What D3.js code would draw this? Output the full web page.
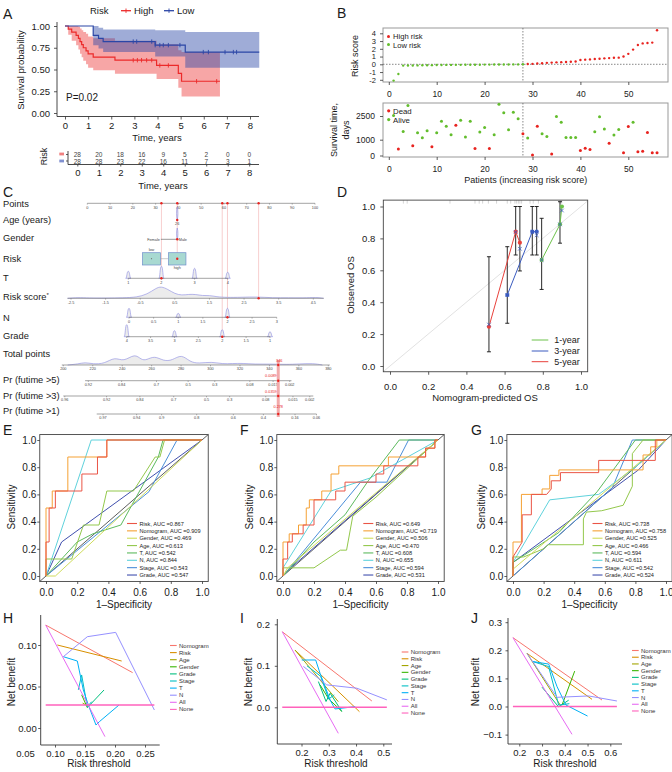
<!DOCTYPE html>
<html lang="en">
<head>
<meta charset="UTF-8" />
<title>Risk model – survival, nomogram, ROC and DCA</title>
<script src="https://d3js.org/d3.v7.min.js"></script>
<style>
  body { margin: 0; background: #fff; }
  svg { display: block; font-family: "Liberation Sans", Arial, Helvetica, sans-serif; }
</style>
</head>
<body>
<svg width="672" height="772"></svg>
<script>
// ---------------- data ----------------
// A: Kaplan-Meier (time in years)
const kmHighT  = [0, 0.14, 0.29, 0.48, 0.58, 0.65, 0.72, 0.79, 0.91, 1.0, 1.22, 2.16, 3.96, 4.9, 5.04, 6.7];
const kmHighS  = [1, 0.964, 0.929, 0.893, 0.857, 0.821, 0.786, 0.75, 0.714, 0.679, 0.643, 0.607, 0.547, 0.456, 0.365, 0.365];
const kmHighLo = [1, 0.9, 0.83, 0.78, 0.73, 0.68, 0.64, 0.6, 0.56, 0.52, 0.49, 0.45, 0.39, 0.29, 0.19, 0.19];
const kmHighUp = [1, 1, 1, 1, 0.99, 0.97, 0.95, 0.93, 0.91, 0.88, 0.86, 0.83, 0.79, 0.72, 0.7, 0.7];
const kmLowT   = [0, 1.22, 1.45, 1.65, 3.9, 5.2, 8.4];
const kmLowS   = [1, 0.893, 0.857, 0.821, 0.78, 0.7, 0.7];
const kmLowLo  = [1, 0.78, 0.74, 0.7, 0.65, 0.52, 0.52];
const kmLowUp  = [1, 1, 0.98, 0.96, 0.95, 0.93, 0.93];
const kmHighCensor = [2.95, 3.13, 3.31, 3.53, 3.75, 4.1, 4.47, 5.69, 6.56];
const kmLowCensor  = [2.95, 3.1, 3.75, 3.9, 4.1, 4.25, 4.47, 4.97, 5.98, 6.2, 6.92, 7.28, 7.42];
const riskTimes  = [0, 1, 2, 3, 4, 5, 6, 7, 8];
const atRiskHigh = [28, 20, 18, 16, 9, 5, 2, 0, 0];
const atRiskLow  = [28, 28, 23, 22, 16, 11, 7, 3, 1];

// B: patients ordered by risk score
const riskScore = [-2.1, -1.25, -0.17, -0.16, -0.15, -0.14, -0.13, -0.12, -0.11, -0.1, -0.09, -0.08, -0.08, -0.07,
  -0.07, -0.06, -0.06, -0.05, -0.05, -0.04, -0.04, -0.03, -0.03, -0.02, -0.02, -0.01, -0.01, 0.0,
  0.03, 0.06, 0.1, 0.14, 0.19, 0.22, 0.25, 0.28, 0.3, 0.33, 0.37, 0.55, 0.6, 0.63, 0.68, 0.72,
  0.77, 0.8, 0.84, 0.86, 1.0, 1.35, 1.9, 2.5, 2.7, 2.75, 2.8, 4.4];
const survDays = [2530, 417, 1520, 3170, 610, 1440, 1120, 1570, 560, 1440, 2170, 1850, 1310, 1910, 2230, 1170,
  2170, 440, 1490, 1780, 440, 1310, 3240, 2700, 1630, 2740, 2320, 1380, 1100, 30, 1850, 1380, 1200, 100,
  2470, 2100, 1140, 1140, 1140, 310, 460, 380, 1510, 2450, 1680, 780, 1290, 1650, 180, 1830, 2100, 240,
  270, 1460, 180, 180];
const deadStatus = [0,1,0,0,1,0,0,0,1,0, 0,0,0,1,0,0,0,1,0,0, 1,0,0,0,0,0,0,1,0,1, 1,0,0,1,0,0,0,0,0,1,
  1,1,0,0,0,1,0,0,1,1, 0,1,1,1,1,1];
const lowRiskCount = 28;

// C: nomogram
const nomoLabels = ["Points", "Age (years)", "Gender", "Risk", "T", "Risk score", "N", "Grade", "Total points",
  "Pr (futime >5)", "Pr (futime >3)", "Pr (futime >1)"];
const pointsTicks = [0, 10, 20, 30, 40, 50, 60, 70, 80, 90, 100];
const tLevels = [1, 2, 3, 4];
const tDensity = [7, 12, 10, 6];
const rsTicks = [-2.5, -1.5, -0.5, 0.5, 1.5, 2.5, 3.5, 4.5];
const rsDensity = [[-2.6, 0], [-2.3, 0.8], [-2.0, 0.3], [-1.5, 0.2], [-1.0, 0.5], [-0.6, 1], [-0.3, 4], [-0.05, 10],
  [0.1, 12], [0.3, 9], [0.5, 4.5], [0.7, 3], [0.9, 4], [1.1, 4], [1.3, 2.5], [1.5, 3], [1.7, 1.5], [2.0, 0.8],
  [2.4, 1], [2.9, 1.5], [3.3, 0.4], [3.8, 0.6], [4.2, 0.3], [4.6, 1], [4.8, 0]];
const nTicks = [0, 0.5, 1, 1.5, 2, 2.5, 3];
const nLevels = [0, 1, 2];
const nDensity = [9, 4, 9];
const gradeTicks = [4, 3.5, 3, 2.5, 2, 1.5, 1];
const gradeLevels = [4, 3, 2, 1];
const gradeDensity = [12, 6, 7, 5];
const totalTicks = [200, 220, 240, 260, 280, 300, 320, 340, 360, 380];
const totalDensity = [[203, 0], [210, 1], [214.7, 2.7], [220, 1], [228, 1.2], [235, 8.3], [241, 3], [248.6, 11.7],
  [253, 5], [256.6, 5], [262, 9.3], [268, 4], [274, 4.5], [280.3, 11], [286, 3], [292, 1.5], [300.7, 3.3],
  [308, 1], [315, 1.5], [322, 1.7], [330, 0.8], [340, 1], [352, 0.5], [360, 1], [369.7, 1.7], [376, 0]];
const pr5Labels = ["0.92", "0.84", "0.7", "0.5", "0.3", "0.08", "0.015", "0.002"];
const pr5AtTotal = [217, 239.6, 263.3, 284.8, 302.9, 326.7, 342.5, 353.8];
const pr3Labels = ["0.96", "0.92", "0.84", "0.7", "0.5", "0.3", "0.08", "0.015", "0.002"];
const pr3AtTotal = [201, 229.4, 252, 275, 297.3, 313, 337.5, 356, 367.4];
const pr1Labels = ["0.97", "0.94", "0.9", "0.8", "0.6", "0.4", "0.16", "0.06"];
const pr1AtTotal = [227, 249.8, 266.8, 290.6, 315.5, 335.9, 357.4, 372];
const patientSharedPoints = 39.5;   // age 26, male, high risk
const genderFemalePoints = 32.3;
const riskLowPoints = 28.2;
const patientT = 2, patientRiskScore = 2.92, patientN = 2, patientGrade = 2, patientAge = 26;
const patientTotal = 346;
const patientProbLabels = ["0.0089", "0.0359", "0.278"];

// D: calibration
const rugPred = [0.07, 0.09, 0.314, 0.445, 0.467, 0.485, 0.515, 0.558, 0.614, 0.632, 0.654, 0.663, 0.672,
  0.68, 0.689, 0.733, 0.75, 0.777, 0.886, 0.893, 0.899];
const calNames = ["1-year", "3-year", "5-year"];
const cal1Pred = [0.794, 0.89, 0.9],  cal1Obs = [0.665, 0.888, 1.0], cal1Lo = [0.48, 0.77, 1.0], cal1Hi = [0.926, 1.03, 1.0], cal1Bc = [0.665, 0.888, 0.975];
const cal3Pred = [0.614, 0.745, 0.768], cal3Obs = [0.445, 0.842, 0.842], cal3Lo = [0.268, 0.696, 0.696], cal3Hi = [0.748, 1.0, 1.0], cal3Bc = [0.445, 0.84, 0.82];
const cal5Pred = [0.518, 0.658, 0.68], cal5Obs = [0.246, 0.842, 0.773], cal5Lo = [0.089, 0.696, 0.596], cal5Hi = [0.685, 1.0, 1.0], cal5Bc = [0.26, 0.84, 0.735];

// E-G: ROC curves, points are [1-specificity, sensitivity]
const rocModels = ["Risk", "Nomogram", "Gender", "Age", "T", "N", "Stage", "Grade"];
const rocE = [
  [[0,0],[0,0.25],[0.02,0.25],[0.02,0.5],[0.06,0.5],[0.06,0.625],[0.23,0.625],[0.23,0.75],[0.33,0.75],[0.33,0.875],[0.39,0.875],[0.39,1],[1,1]],
  [[0,0],[0,0.125],[0,0.5],[0.04,0.5],[0.04,0.625],[0.14,0.625],[0.14,0.875],[0.39,0.875],[0.39,1],[1,1]],
  [[0,0],[0.06,0],[1,1]],
  [[0,0],[0,0.125],[0.165,0.125],[0.24,0.375],[0.34,0.375],[0.39,0.625],[0.56,0.625],[0.7,0.875],[0.73,0.875],[0.76,1],[1,1]],
  [[0,0],[0.1,0.125],[0.2,0.25],[0.3,0.31],[0.48,0.375],[0.6,0.625],[0.72,0.875],[0.75,1],[1,1]],
  [[0,0],[0.29,1],[1,1]],
  [[0,0],[0.66,0.62],[0.84,1],[1,1]],
  [[0,0],[0.1,0.25],[1,1]]
];
const aucE = [0.867, 0.909, 0.469, 0.613, 0.542, 0.844, 0.543, 0.547];
const rocF = [
  [[0,0],[0,0.125],[0.03,0.125],[0.03,0.25],[0.06,0.25],[0.06,0.31],[0.13,0.31],[0.13,0.375],[0.2,0.375],[0.2,0.56],[0.34,0.56],[0.34,0.625],[0.4,0.625],[0.4,0.69],[0.6,0.69],[0.6,0.75],[0.65,0.75],[0.65,0.81],[0.87,0.81],[0.87,0.875],[0.92,0.875],[0.92,0.94],[0.98,0.94],[0.98,1],[1,1]],
  [[0,0],[0,0.25],[0.04,0.25],[0.04,0.31],[0.1,0.31],[0.1,0.375],[0.15,0.375],[0.15,0.5],[0.17,0.5],[0.17,0.56],[0.25,0.56],[0.25,0.625],[0.31,0.625],[0.31,0.75],[0.36,0.75],[0.36,0.81],[0.68,0.81],[0.68,0.875],[0.92,0.875],[0.92,0.94],[0.98,0.94],[0.98,1],[1,1]],
  [[0,0],[0.03,0.06],[1,1]],
  [[0,0],[0,0.06],[0.2,0.06],[0.37,0.19],[0.41,0.19],[0.45,0.44],[0.6,0.58],[1,1]],
  [[0,0],[0.2,0.25],[0.4,0.45],[0.55,0.7],[0.75,1],[1,1]],
  [[0,0],[0,0.06],[0.31,0.625],[0.56,0.72],[1,1]],
  [[0,0],[0.5,0.69],[0.67,0.69],[0.81,1],[1,1]],
  [[0,0],[0.05,0.06],[1,1]]
];
const aucF = [0.649, 0.719, 0.506, 0.470, 0.608, 0.655, 0.594, 0.531];
const rocG = [
  [[0,0],[0,0.14],[0.06,0.25],[0.06,0.45],[0.12,0.45],[0.12,0.6],[0.22,0.6],[0.25,0.64],[0.25,0.7],[0.31,0.7],[0.31,0.76],[0.56,0.76],[0.56,0.85],[0.93,0.85],[0.93,1],[1,1]],
  [[0,0],[0,0.25],[0.055,0.25],[0.055,0.6],[0.19,0.6],[0.19,0.64],[0.24,0.64],[0.24,0.74],[0.3,0.74],[0.3,0.78],[0.85,0.78],[0.85,0.89],[0.9,0.89],[0.9,0.95],[0.94,0.95],[0.94,1],[1,1]],
  [[0,0],[0,0.05],[1,1]],
  [[0,0],[0,0.14],[0.07,0.14],[0.2,0.2],[0.23,0.23],[0.46,0.23],[0.46,0.42],[0.48,0.47],[0.58,0.48],[0.72,0.52],[0.78,0.66],[0.78,0.9],[0.85,1],[1,1]],
  [[0,0],[0,0.1],[0.3,0.32],[0.55,0.62],[0.8,1],[1,1]],
  [[0,0],[0,0.1],[0.24,0.56],[0.56,0.6],[0.8,0.8],[1,1]],
  [[0,0],[0.65,0.65],[0.78,1],[1,1]],
  [[0,0],[0,0.1],[0.82,0.78],[1,1]]
];
const aucG = [0.738, 0.758, 0.525, 0.466, 0.594, 0.611, 0.542, 0.524];

// H-J: decision curves, points are [risk threshold, net benefit]
const dcaModels = ["Nomogram", "Risk", "Age", "Gender", "Grade", "Stage", "T", "N", "All", "None"];
const dcaH = [
  [[0.0845,0.124],[0.2294,0.0667]],
  [[0.1039,0.1],[0.2111,0.0807]],
  [[0.146,0.03],[0.156,0.026]],
  [[0.1444,0.04],[0.1539,0.0245]],
  [[0.1539,0.0245],[0.1817,0.0458]],
  [[0.1389,0.046],[0.1444,0.0639],[0.1539,0.0257],[0.1611,0.0317]],
  [[0.1139,0.0859],[0.1372,0.0807],[0.1472,0.0458],[0.1556,0.0277],[0.1683,0.0036],[0.1739,0.0076],[0.2067,0.0277]],
  [[0.1139,0.0859],[0.1539,0.11],[0.2011,0.1152],[0.2656,0.0217]],
  [[0.0845,0.124],[0.1833,-0.0104]],
  [[0.0845,0.0277],[0.2656,0.0277]]
];
const dcaI = [
  [[0.1294,0.182],[0.458,0.0152]],
  [[0.176,0.138],[0.4125,-0.0105]],
  [[0.176,0.138],[0.335,0.0135]],
  [[0.268,0.054],[0.3,0.02],[0.348,-0.01]],
  [[0.262,0.062],[0.29,0.014],[0.305,0.034],[0.348,-0.01]],
  [[0.22,0.1],[0.27,0.075],[0.3,0.02],[0.32,0.03]],
  [[0.2007,0.114],[0.252,0.114],[0.268,0.0819],[0.305,0.0177],[0.323,-0.004],[0.397,0.0016]],
  [[0.2066,0.0985],[0.2926,0.054],[0.403,0.046],[0.513,0.0179]],
  [[0.1294,0.182],[0.335,-0.0627]],
  [[0.1294,0],[0.513,0]]
];
const dcaJ = [
  [[0.172,0.245],[0.5635,0.023]],
  [[0.234,0.189],[0.5196,0.0256]],
  [[0.234,0.189],[0.38,0.005]],
  [[0.3877,0.005],[0.4435,0.126]],
  [[0.2998,0.0687],[0.373,-0.0012],[0.417,0.0225]],
  [[0.263,0.159],[0.329,0.142],[0.373,0.005],[0.42,0.01]],
  [[0.259,0.16],[0.329,0.151],[0.366,0.0705],[0.405,0.0053],[0.5,-0.034]],
  [[0.234,0.189],[0.366,0.0327],[0.505,0.0375],[0.629,0.0196]],
  [[0.172,0.245],[0.4316,-0.099]],
  [[0.172,0],[0.629,0]]
];

// ---------------- helpers ----------------
const svg = d3.select("svg");
const INK = "#1a1a1a";
const RED_KM = "#ec2a2a", BLUE_KM = "#2b46a6";
const PT_RED = "#e8231f", PT_GREEN = "#63bd2d";
const ROC_COLORS = ["#ea5546", "#f5a134", "#cfdc5c", "#93c84c", "#5cba5e", "#5fd2dc", "#4a8ed9", "#4150ae"];
const DCA_COLORS = ["#F8766D", "#D89000", "#A3A500", "#39B600", "#00BF7D", "#00BFC4", "#00B0F6", "#9590FF", "#E76BF3", "#FF62BC"];

function text(g, x, y, s, fs, o = {}) {
  const t = g.append("text").attr("x", x).attr("y", y).attr("font-size", fs)
    .attr("fill", o.fill || INK).attr("text-anchor", o.anchor || "start").text(s);
  if (o.rot) t.attr("transform", `rotate(-90 ${x} ${y})`);
  return t;
}
function seg(g, x1, y1, x2, y2, col, w, dash) {
  const l = g.append("line").attr("x1", x1).attr("y1", y1).attr("x2", x2).attr("y2", y2)
    .attr("stroke", col).attr("stroke-width", w);
  if (dash) l.attr("stroke-dasharray", dash);
  return l;
}
function rAxis(g, gen, tx, ty, fs) {
  const a = g.append("g").attr("transform", `translate(${tx},${ty})`).call(gen);
  a.attr("font-size", fs).attr("font-family", null);
  a.select(".domain").remove();
  a.selectAll(".tick line").attr("stroke", "#333").attr("stroke-width", 0.8);
  a.selectAll(".tick text").attr("fill", INK);
  return a;
}

// panel letters
[["A", 3, 18.5], ["B", 337, 17.5], ["C", 3, 197], ["D", 337, 197], ["E", 3, 435], ["F", 240, 435],
 ["G", 471, 435], ["H", 3, 623], ["I", 240, 623], ["J", 471, 623]]
  .forEach(([s, x, y]) => text(svg, x, y, s, 14));

// ---------------- A: Kaplan-Meier ----------------
{
  const g = svg.append("g");
  const x = d3.scaleLinear().domain([0, 8]).range([65, 250]);
  const y = d3.scaleLinear().domain([0, 1]).range([113, 26]);
  const toRows = (T, S, Lo, Up) => T.map((t, i) => ({ t: t, s: S[i], lo: Lo[i], hi: Up[i] }));
  const high = toRows(kmHighT, kmHighS, kmHighLo, kmHighUp);
  const low = toRows(kmLowT, kmLowS, kmLowLo, kmLowUp);
  const band = d3.area().curve(d3.curveStepAfter).x(d => x(d.t)).y0(d => y(d.lo)).y1(d => y(d.hi));
  const step = d3.line().curve(d3.curveStepAfter).x(d => x(d.t)).y(d => y(d.s));

  g.append("path").datum(high).attr("d", band).attr("fill", RED_KM).attr("fill-opacity", 0.42);
  g.append("path").datum(low).attr("d", band).attr("fill", BLUE_KM).attr("fill-opacity", 0.45);
  g.append("path").datum(high).attr("d", step).attr("fill", "none").attr("stroke", RED_KM).attr("stroke-width", 1.2);
  g.append("path").datum(low).attr("d", step).attr("fill", "none").attr("stroke", BLUE_KM).attr("stroke-width", 1.2);

  const survAt = (T, S, t) => S[d3.bisectRight(T, t) - 1];
  [[kmHighCensor, kmHighT, kmHighS, RED_KM], [kmLowCensor, kmLowT, kmLowS, BLUE_KM]].forEach(([C, T, S, col]) => {
    g.selectAll(null).data(C).join("line")
      .attr("x1", d => x(d)).attr("x2", d => x(d))
      .attr("y1", d => y(survAt(T, S, d)) - 2.2).attr("y2", d => y(survAt(T, S, d)) + 2.2)
      .attr("stroke", col).attr("stroke-width", 0.9);
  });

  seg(g, 57, 22, 57, 116.5, "#333", 0.9);
  seg(g, 57, 116.5, 259, 116.5, "#333", 0.9);
  rAxis(g, d3.axisLeft(y).tickValues([0, 0.25, 0.5, 0.75, 1]).tickFormat(d3.format(".2f")).tickSize(3).tickPadding(4), 57, 0, 9.5);
  rAxis(g, d3.axisBottom(x).tickValues(riskTimes).tickSize(3).tickPadding(3), 0, 116.5, 9.5);
  text(g, 157, 141, "Time, years", 9.5, { anchor: "middle" });
  text(g, 24, 70, "Survival probability", 9.5, { anchor: "middle", rot: true });
  text(g, 66, 100.5, "P=0.02", 10);

  // legend
  text(g, 90, 14, "Risk", 9.5);
  seg(g, 121, 10.7, 131, 10.7, RED_KM, 1.3); seg(g, 126, 8.5, 126, 12.9, RED_KM, 0.9);
  text(g, 134, 14, "High", 9.5);
  seg(g, 164, 10.7, 174, 10.7, BLUE_KM, 1.3); seg(g, 169, 8.5, 169, 12.9, BLUE_KM, 0.9);
  text(g, 177, 14, "Low", 9.5);

  // number-at-risk table
  const xt = d3.scaleLinear().domain([0, 8]).range([77.3, 249.2]);
  g.selectAll(null).data(atRiskHigh).join("text")
    .attr("x", (d, i) => xt(riskTimes[i])).attr("y", 157).attr("font-size", 6.5)
    .attr("text-anchor", "middle").attr("fill", "#444").text(d => d);
  g.selectAll(null).data(atRiskLow).join("text")
    .attr("x", (d, i) => xt(riskTimes[i])).attr("y", 163.5).attr("font-size", 6.5)
    .attr("text-anchor", "middle").attr("fill", "#444").text(d => d);
  seg(g, 68, 164.5, 259, 164.5, "#333", 0.9);
  seg(g, 68, 151, 68, 164.5, "#333", 0.9);
  seg(g, 66, 154.5, 68, 154.5, "#333", 0.8);
  seg(g, 66, 161, 68, 161, "#333", 0.8);
  g.append("rect").attr("x", 59.3).attr("y", 152.6).attr("width", 4.7).attr("height", 2.8).attr("fill", "#f08080");
  g.append("rect").attr("x", 59.3).attr("y", 159.6).attr("width", 4.7).attr("height", 2.8).attr("fill", "#8090d0");
  rAxis(g, d3.axisBottom(xt).tickValues(riskTimes).tickSize(2).tickPadding(3), 0, 164.5, 9.5);
  text(g, 46.5, 156.5, "Risk", 9, { anchor: "middle", rot: true });
  text(g, 163, 189, "Time, years", 9.5, { anchor: "middle" });
}

// ---------------- B: risk score / survival status ----------------
{
  const g = svg.append("g");
  const x = d3.scaleLinear().domain([0, 50]).range([388.8, 628.3]);
  const yS = d3.scaleLinear().domain([0, 4]).range([64.3, 33.3]);
  const yT = d3.scaleLinear().domain([0, 2500]).range([155.5, 116]);
  const ids = riskScore.map((d, i) => i + 1);
  const intFmt = d => (d < 0 ? "-" : "") + Math.abs(d);

  g.append("rect").attr("x", 383).attr("y", 28).attr("width", 285).attr("height", 54)
    .attr("fill", "none").attr("stroke", "#999").attr("stroke-width", 1);
  g.append("rect").attr("x", 383).attr("y", 103).attr("width", 285).attr("height", 54)
    .attr("fill", "none").attr("stroke", "#999").attr("stroke-width", 1);
  seg(g, 383, yS(0), 668, yS(0), "#555", 0.7, "1.5,1.5");
  seg(g, x(lowRiskCount), 28, x(lowRiskCount), 82, "#555", 0.7, "1.5,1.5");
  seg(g, x(lowRiskCount), 103, x(lowRiskCount), 157, "#555", 0.7, "1.5,1.5");

  g.selectAll(null).data(ids).join("circle")
    .attr("cx", d => x(d)).attr("cy", d => yS(riskScore[d - 1])).attr("r", 1.2)
    .attr("fill", d => d > lowRiskCount ? PT_RED : PT_GREEN);
  g.selectAll(null).data(ids).join("circle")
    .attr("cx", d => x(d)).attr("cy", d => yT(survDays[d - 1])).attr("r", 1.5)
    .attr("fill", d => deadStatus[d - 1] ? PT_RED : PT_GREEN);

  rAxis(g, d3.axisLeft(yS).tickValues([-2, -1, 0, 1, 2, 3, 4]).tickFormat(intFmt).tickSize(3).tickPadding(4), 383, 0, 7.5);
  rAxis(g, d3.axisLeft(yT).tickValues([0, 1000, 2500]).tickFormat(intFmt).tickSize(3).tickPadding(5), 383, 0, 8.5);
  rAxis(g, d3.axisBottom(x).tickValues([0, 10, 20, 30, 40, 50]).tickSize(3).tickPadding(6), 0, 82, 8.5);
  rAxis(g, d3.axisBottom(x).tickValues([0, 10, 20, 30, 40, 50]).tickSize(3).tickPadding(6), 0, 157, 8.5);

  g.append("circle").attr("cx", 388.5).attr("cy", 36.6).attr("r", 1.5).attr("fill", PT_RED);
  text(g, 393, 39.3, "High risk", 7.6);
  g.append("circle").attr("cx", 388.5).attr("cy", 44.6).attr("r", 1.5).attr("fill", PT_GREEN);
  text(g, 393, 47.6, "Low risk", 7.6);
  g.append("circle").attr("cx", 388.7).attr("cy", 110.8).attr("r", 1.6).attr("fill", PT_RED);
  text(g, 393, 113.8, "Dead", 7.8);
  g.append("circle").attr("cx", 388.7).attr("cy", 119.6).attr("r", 1.6).attr("fill", PT_GREEN);
  text(g, 393, 123, "Alive", 7.8);

  text(g, 358, 56, "Risk score", 9, { anchor: "middle", rot: true });
  text(g, 337, 130, "Survival time,", 9, { anchor: "middle", rot: true });
  text(g, 349, 130, "days", 9, { anchor: "middle", rot: true });
  text(g, 525.8, 183, "Patients (increasing risk score)", 9, { anchor: "middle" });
}

// ---------------- C: nomogram ----------------
{
  const g = svg.append("g");
  const xPts = d3.scaleLinear().domain([0, 100]).range([87.3, 315]);
  const xT = d3.scaleLinear().domain([1, 4]).range([128.3, 227.7]);
  const xRS = d3.scaleLinear().domain([-2.5, 4.5]).range([71, 313.3]);
  const xN = d3.scaleLinear().domain([0, 3]).range([129, 276.7]);
  const xGr = d3.scaleLinear().domain([4, 1]).range([126.7, 270]);
  const xTot = d3.scaleLinear().domain([200, 380]).range([63.3, 328.3]);
  const TICK_FS = 3.8, DENS_FILL = "#ececec", DENS_LINE = "#8a8ae0";

  const labelY = [206.5, 222.7, 240.7, 261.7, 281, 300.3, 320.7, 339.3, 357.3, 383, 399, 414];
  nomoLabels.forEach((s, i) => {
    const t = text(g, 3, labelY[i], s, 9.3);
    if (s === "Risk score") t.append("tspan").attr("dy", -3).attr("font-size", 6).text("*");
  });

  function axisRow(y, x0, x1, ticks, labels, xOf) {
    seg(g, x0, y, x1, y, "#666", 0.6);
    ticks.forEach((v, i) => {
      seg(g, xOf(v), y, xOf(v), y + 1.3, "#666", 0.5);
      text(g, xOf(v), y + 5.2, labels ? labels[i] : String(v), TICK_FS, { anchor: "middle", fill: "#444" });
    });
  }
  function bumps(y, levels, heights, xOf) {
    levels.forEach((v, i) => {
      const cx = xOf(v), h = heights[i], w = 2.6;
      g.append("path")
        .attr("d", `M${cx - w},${y} C${cx - w * 0.5},${y} ${cx - w * 0.6},${y - h} ${cx},${y - h} C${cx + w * 0.6},${y - h} ${cx + w * 0.5},${y} ${cx + w},${y} Z`)
        .attr("fill", DENS_FILL).attr("stroke", DENS_LINE).attr("stroke-width", 0.6);
    });
  }
  function density(y, pts, xOf) {
    const area = d3.area().curve(d3.curveBasis).x(d => xOf(d[0])).y0(y).y1(d => y - d[1]);
    const line = d3.line().curve(d3.curveBasis).x(d => xOf(d[0])).y(d => y - d[1]);
    g.append("path").datum(pts).attr("d", area).attr("fill", DENS_FILL);
    g.append("path").datum(pts).attr("d", line).attr("fill", "none").attr("stroke", DENS_LINE).attr("stroke-width", 0.6);
  }

  // pink guide lines from the points scale to each variable
  const sharedX = xPts(patientSharedPoints);
  const guides = [[xT(patientT), 278.3], [sharedX, 258.7], [xGr(patientGrade), 336.7], [xN(patientN), 317.3], [xRS(patientRiskScore), 298.3]];
  guides.forEach(([gx, gy]) => seg(g, gx, 203.3, gx, gy, "#f5c2c2", 0.8));

  // Points
  axisRow(203.3, 87.3, 315, pointsTicks, null, xPts);
  // Age
  g.append("path").attr("d", `M${sharedX},207 C${sharedX + 1},210 ${sharedX + 0.8},217 ${sharedX},220 C${sharedX - 0.8},217 ${sharedX - 1},210 ${sharedX},207 Z`)
    .attr("fill", DENS_FILL).attr("stroke", DENS_LINE).attr("stroke-width", 0.6);
  text(g, sharedX, 225, String(patientAge), TICK_FS, { anchor: "middle", fill: "#444" });
  // Gender
  const femaleX = xPts(genderFemalePoints);
  seg(g, femaleX, 239.3, sharedX, 239.3, "#555", 0.6);
  g.append("path").attr("d", `M${sharedX},228 C${sharedX + 1},231 ${sharedX + 0.8},237 ${sharedX},239.3 C${sharedX - 0.8},237 ${sharedX - 1},231 ${sharedX},228 Z`)
    .attr("fill", DENS_FILL).attr("stroke", DENS_LINE).attr("stroke-width", 0.6);
  text(g, femaleX - 1, 240.6, "Female", TICK_FS, { anchor: "end", fill: "#444" });
  text(g, sharedX + 1.5, 240.6, "Male", TICK_FS, { fill: "#444" });
  // Risk boxes
  const lowX = xPts(riskLowPoints);
  seg(g, lowX + 9, 258.7, sharedX - 9, 258.7, "#999", 0.5);
  [[lowX, 18], [sharedX, 17.4]].forEach(([cx, w]) => {
    g.append("rect").attr("x", cx - w / 2).attr("y", 252.7).attr("width", w).attr("height", 12.3)
      .attr("fill", "#a8d9d1").attr("stroke", "#6f8fcb").attr("stroke-width", 0.7);
  });
  g.append("circle").attr("cx", lowX).attr("cy", 258.7).attr("r", 0.6).attr("fill", "#777");
  text(g, lowX, 251, "low", TICK_FS, { anchor: "middle", fill: "#444" });
  text(g, sharedX, 268.7, "high", TICK_FS, { anchor: "middle", fill: "#444" });
  // T
  bumps(278.3, tLevels, tDensity, xT);
  axisRow(278.3, xT(1), xT(4), tLevels, null, xT);
  // Risk score
  density(298.3, rsDensity, xRS);
  axisRow(298.3, xRS(-2.6), xRS(4.8), rsTicks, null, xRS);
  // N
  bumps(317.3, nLevels, nDensity, xN);
  axisRow(317.3, xN(0), xN(3), nTicks, null, xN);
  // Grade
  bumps(336.7, gradeLevels, gradeDensity, xGr);
  axisRow(336.7, xGr(4), xGr(1), gradeTicks, null, xGr);
  // Total points
  density(365, totalDensity, xTot);
  axisRow(365, xTot(199), xTot(381), totalTicks, null, xTot);
  // Probability scales
  axisRow(380.7, xTot(214.8), xTot(355), pr5AtTotal, pr5Labels, xTot);
  axisRow(396, xTot(200), xTot(369.8), pr3AtTotal, pr3Labels, xTot);
  axisRow(414, xTot(222.7), xTot(372), pr1AtTotal, pr1Labels, xTot);

  // patient marker on total & probabilities
  const tx = xTot(patientTotal);
  seg(g, tx, 360, tx, 417, "#f2aaaa", 3);
  text(g, tx + 1, 362, String(patientTotal), TICK_FS, { anchor: "middle", fill: PT_RED });
  [[380.7, 377], [396, 392.5]].forEach(([yy, ly], i) =>
    text(g, tx - 1.5, ly, patientProbLabels[i], TICK_FS, { anchor: "end", fill: PT_RED }));
  text(g, tx, 408, patientProbLabels[2], TICK_FS, { anchor: "middle", fill: PT_RED });
  const dots = [[xT(patientT), 278.3], [sharedX, 220], [sharedX, 239.3], [sharedX, 258.7], [xRS(patientRiskScore), 298.3],
    [xN(patientN), 317.3], [xGr(patientGrade), 336.7], [tx, 365], [tx, 380.7], [tx, 396], [tx, 414]];
  guides.forEach(([gx]) => dots.push([gx, 203.3]));
  g.selectAll(null).data(dots).join("circle").attr("cx", d => d[0]).attr("cy", d => d[1])
    .attr("r", 1.2).attr("fill", PT_RED);
}

// ---------------- D: calibration ----------------
{
  const g = svg.append("g");
  const x = d3.scaleLinear().domain([0, 1]).range([390, 581]);
  const y = d3.scaleLinear().domain([0, 1]).range([366, 206.5]);
  const bx0 = x(-0.035), bx1 = x(1.035), by0 = y(1.04), by1 = y(-0.036);
  seg(g, x(-0.035), y(-0.035), x(1.035), y(1.035), "#e2e2e2", 1);
  g.selectAll(null).data(rugPred).join("line")
    .attr("x1", d => x(d)).attr("x2", d => x(d)).attr("y1", by0).attr("y2", by0 + 3.5)
    .attr("stroke", "#aaa").attr("stroke-width", 0.5);
  const groups = [
    { pred: cal1Pred, obs: cal1Obs, lo: cal1Lo, hi: cal1Hi, bc: cal1Bc, col: "#6cc24a" },
    { pred: cal3Pred, obs: cal3Obs, lo: cal3Lo, hi: cal3Hi, bc: cal3Bc, col: "#3a5bbf" },
    { pred: cal5Pred, obs: cal5Obs, lo: cal5Lo, hi: cal5Hi, bc: cal5Bc, col: "#e8413b" }
  ];
  groups.forEach(gr => gr.pred.forEach((p, i) => {
    if (gr.hi[i] === gr.lo[i]) return;
    seg(g, x(p), y(gr.lo[i]), x(p), y(gr.hi[i]), "#111", 0.9);
    seg(g, x(p) - 2, y(gr.lo[i]), x(p) + 2, y(gr.lo[i]), "#111", 0.9);
    seg(g, x(p) - 2, y(gr.hi[i]), x(p) + 2, y(gr.hi[i]), "#111", 0.9);
  }));
  const line = d3.line().x(d => x(d[0])).y(d => y(d[1]));
  groups.forEach(gr => {
    g.append("path").attr("d", line(gr.pred.map((p, i) => [p, gr.obs[i]])))
      .attr("fill", "none").attr("stroke", gr.col).attr("stroke-width", 1);
  });
  groups.forEach(gr => {
    g.selectAll(null).data(gr.pred).join("circle")
      .attr("cx", d => x(d)).attr("cy", (d, i) => y(gr.obs[i])).attr("r", 2.1).attr("fill", gr.col);
    g.selectAll(null).data(gr.pred).join("path")
      .attr("d", "M-1.8,-1.8L1.8,1.8M-1.8,1.8L1.8,-1.8")
      .attr("transform", (d, i) => `translate(${x(d)},${y(gr.bc[i])})`)
      .attr("stroke", "#3a5bbf").attr("stroke-width", 0.8);
  });
  g.append("rect").attr("x", bx0).attr("y", by0).attr("width", bx1 - bx0).attr("height", by1 - by0)
    .attr("fill", "none").attr("stroke", "#444").attr("stroke-width", 0.9);
  const tv = [0, 0.2, 0.4, 0.6, 0.8, 1];
  rAxis(g, d3.axisBottom(x).tickValues(tv).tickFormat(d3.format(".1f")).tickSize(3).tickPadding(9), 0, by1, 9.5);
  rAxis(g, d3.axisLeft(y).tickValues(tv).tickFormat(d3.format(".1f")).tickSize(3).tickPadding(5), bx0, 0, 9.5);
  text(g, 485, 401, "Nomogram-predicted OS", 9.5, { anchor: "middle" });
  text(g, 354, 285, "Observed OS", 9.5, { anchor: "middle", rot: true });
  groups.forEach((gr, i) => {
    const ly = [340, 351, 361.7][i];
    seg(g, 531.7, ly, 548.3, ly, gr.col, 1);
    text(g, 554.3, ly + 3.2, calNames[i], 9);
  });
}

// ---------------- E-G: ROC ----------------
function rocPanel(x0, x1, curves, aucs, legX, sensX) {
  const g = svg.append("g");
  const x = d3.scaleLinear().domain([0, 1]).range([x0, x1]);
  const y = d3.scaleLinear().domain([0, 1]).range([576, 440]);
  seg(g, x(-0.04), y(-0.04), x(1.04), y(1.04), "#333", 0.8);
  const line = d3.line().x(d => x(d[0])).y(d => y(d[1]));
  for (let i = curves.length - 1; i >= 0; i--) {
    g.append("path").attr("d", line(curves[i])).attr("fill", "none")
      .attr("stroke", ROC_COLORS[i]).attr("stroke-width", 1);
  }
  g.append("rect").attr("x", x(-0.04)).attr("y", y(1.04)).attr("width", x(1.04) - x(-0.04))
    .attr("height", y(-0.04) - y(1.04)).attr("fill", "none").attr("stroke", "#444").attr("stroke-width", 0.9);
  const tv = [0, 0.2, 0.4, 0.6, 0.8, 1];
  rAxis(g, d3.axisBottom(x).tickValues(tv).tickFormat(d3.format(".1f")).tickSize(2.5).tickPadding(4.5), 0, y(-0.04), 10);
  rAxis(g, d3.axisLeft(y).tickValues(tv).tickFormat(d3.format(".1f")).tickSize(2.5).tickPadding(1), x(-0.04), 0, 10);
  text(g, (x0 + x1) / 2, 608, "1–Specificity", 10, { anchor: "middle" });
  text(g, sensX, 507, "Sensitivity", 10, { anchor: "middle", rot: true });
  rocModels.forEach((m, i) => {
    const ly = 525.5 + i * 7.36;
    seg(g, legX, ly - 2, legX + 10, ly - 2, ROC_COLORS[i], 1.1);
    text(g, legX + 12.5, ly, `${m}, AUC =${aucs[i].toFixed(3)}`, 5.6);
  });
}
rocPanel(46, 202, rocE, aucE, 127, 15);
rocPanel(283, 438, rocF, aucF, 363.3, 253.3);
rocPanel(513, 666, rocG, aucG, 592.5, 485.3);

// ---------------- H-J: decision curves ----------------
function dcaPanel(xDom, xRng, yDom, yRng, curves, ax, o) {
  const g = svg.append("g");
  const x = d3.scaleLinear().domain(xDom).range(xRng);
  const y = d3.scaleLinear().domain(yDom).range(yRng);
  const line = d3.line().x(d => x(d[0])).y(d => y(d[1]));
  curves.forEach((c, i) => {
    g.append("path").attr("d", line(c)).attr("fill", "none")
      .attr("stroke", DCA_COLORS[i]).attr("stroke-width", i === curves.length - 1 ? 1.4 : 1);
  });
  seg(g, ax.x, ax.yTop, ax.x, ax.yBot, "#333", 0.9);
  seg(g, ax.x, ax.yBot, ax.xEnd, ax.yBot, "#333", 0.9);
  const xa = rAxis(g, d3.axisBottom(x).tickValues(o.xTicks).tickFormat(d3.format(o.xFmt)).tickSize(2.5).tickPadding(2.7), 0, ax.yBot, 9.5);
  xa.selectAll(".tick line").filter(d => x(d) < ax.x).remove();
  rAxis(g, d3.axisLeft(y).tickValues(o.yTicks).tickFormat(d3.format(o.yFmt)).tickSize(2.5).tickPadding(o.yPad), ax.x, 0, 9.5);
  text(g, o.titleX, 767, "Risk threshold", 10, { anchor: "middle" });
  text(g, o.nbX, 682, "Net benefit", 10, { anchor: "middle", rot: true });
  dcaModels.forEach((m, i) => {
    const ly = o.legY0 + i * o.legDy;
    seg(g, o.legX, ly - 2, o.legX + 6.7, ly - 2, DCA_COLORS[i], 1.1);
    text(g, o.legX + 9, ly, m, 6, { fill: "#333" });
  });
}
dcaPanel([0.05, 0.25], [25, 145], [0, 0.1], [728, 645], dcaH,
  { x: 40.7, yTop: 615, yBot: 745, xEnd: 159.7 },
  { xTicks: [0.05, 0.1, 0.15, 0.2, 0.25], xFmt: ".2f", yTicks: [0, 0.05, 0.1], yFmt: ".2f", yPad: 1.5,
    titleX: 99, nbX: 15, legX: 170, legY0: 647.5, legDy: 7.1 });
dcaPanel([0.2, 0.5], [301.5, 383.3], [0, 0.1], [707.3, 665.8], dcaI,
  { x: 277.3, yTop: 619, yBot: 744, xEnd: 392 },
  { xTicks: [0.2, 0.3, 0.4, 0.5], xFmt: ".1f", yTicks: [0, 0.1, 0.2], yFmt: ".1f", yPad: 4.8,
    titleX: 336, nbX: 251.7, legX: 401.7, legY0: 654, legDy: 6.78 });
dcaPanel([0.2, 0.6], [519.3, 610.3], [0, 0.1], [706.5, 678.4], dcaJ,
  { x: 508, yTop: 618, yBot: 744, xEnd: 622 },
  { xTicks: [0.2, 0.3, 0.4, 0.5, 0.6], xFmt: ".1f", yTicks: [-0.1, 0, 0.1, 0.2, 0.3], yFmt: ".1f", yPad: 3.5,
    titleX: 565, nbX: 478.7, legX: 632, legY0: 652.5, legDy: 6.72 });
</script>
</body>
</html>
